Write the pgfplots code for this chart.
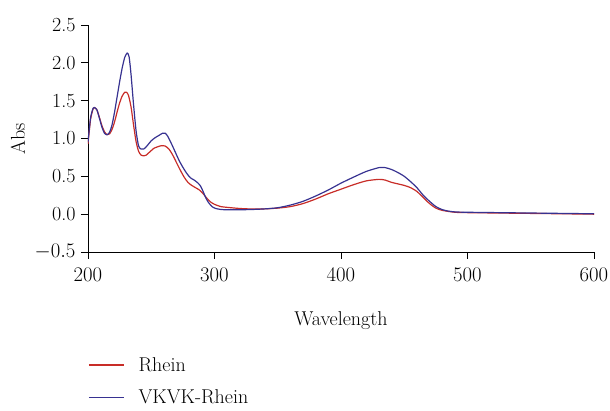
\documentclass[border=0pt]{standalone}
\usepackage{pgfplots}
\pgfplotsset{compat=1.18}
\definecolor{rheinred}{RGB}{200,45,40}
\definecolor{vkblue}{RGB}{55,50,145}

\begin{document}
\begin{tikzpicture}
\useasboundingbox (-88pt,-159pt) rectangle (522pt,252pt);
\begin{axis}[
    at={(0pt,0pt)}, anchor=south west,
    scale only axis,
    width=506pt, height=227pt,
    xmin=200, xmax=600,
    ymin=-0.5, ymax=2.5,
    axis x line*=bottom,
    axis y line*=left,
    xtick={200,300,400,500,600},
    ytick={-0.5,0,0.5,1,1.5,2,2.5},
    yticklabels={$-0.5$,0.0,0.5,1.0,1.5,2.0,2.5},
    tick align=outside,
    major tick length=7pt,
    axis line style={line width=0.8pt},
    tick style={line width=0.8pt, black},
    ticklabel style={font=\fontsize{20}{22}\selectfont},
    xticklabel style={yshift=-6pt},
    yticklabel style={xshift=-2pt},
    xlabel={Wavelength},
    ylabel={Abs},
    every axis x label/.style={at={(axis description cs:0.5,0)}, anchor=center, yshift=-69pt,
        font=\fontsize{20}{22}\selectfont},
    every axis y label/.style={at={(axis description cs:0,0.5)}, anchor=center, rotate=90, yshift=70pt,
        font=\fontsize{20}{22}\selectfont},
    legend style={at={(axis description cs:0,-0.455)}, anchor=north west, draw=none, fill=none,
        font=\fontsize{20}{22}\selectfont, inner xsep=0pt, inner ysep=0pt, row sep=13pt, cells={anchor=west}},
    legend cell align=left,
    legend image code/.code={\draw[#1, line width=1.4pt] (0pt,0pt) -- (35pt,0pt);},
    legend style={/tikz/every odd column/.append style={column sep=12pt}},
    every axis plot/.append style={line width=1.2pt, line join=round},
]
\addplot[rheinred, smooth, tension=0.4] coordinates {
(200,0.93) (202,1.25) (204,1.39) (205,1.41) (207,1.38) (209,1.28) (211,1.17) (213,1.09)
(215,1.05) (217,1.06) (219,1.12) (221,1.22) (223,1.35) (225,1.47) (227,1.56) (229,1.61)
(230.5,1.61) (232,1.57) (234,1.42) (236,1.18) (238,0.96) (240,0.83) (242,0.78) (244,0.77)
(246,0.78) (248,0.81) (250,0.84) (252,0.87) (255,0.89) (258,0.905) (261,0.90) (264,0.86)
(267,0.78) (270,0.68) (273,0.58) (276,0.49) (279,0.42) (282,0.38) (285,0.35) (288,0.32)
(291,0.27) (294,0.21) (297,0.16) (300,0.13) (305,0.10) (310,0.09) (320,0.075) (330,0.068)
(340,0.07) (350,0.08) (360,0.10) (370,0.14) (380,0.20) (390,0.27) (400,0.33) (410,0.39)
(420,0.44) (430,0.46) (435,0.45) (440,0.42) (450,0.38) (455,0.35) (460,0.30) (465,0.22)
(470,0.14) (475,0.08) (480,0.05) (490,0.025) (500,0.02) (550,0.01) (600,0.0)
};
\addlegendentry{Rhein}
\addplot[vkblue, smooth, tension=0.4] coordinates {
(200,0.95) (202,1.27) (204,1.40) (205,1.41) (207,1.38) (209,1.27) (211,1.15) (213,1.07)
(215,1.05) (217,1.08) (219,1.18) (221,1.35) (223,1.55) (225,1.75) (227,1.93) (229,2.07)
(231,2.13) (232.5,2.08) (234,1.85) (236,1.45) (238,1.10) (240,0.90) (242,0.86) (244,0.86)
(246,0.89) (248,0.93) (250,0.97) (253,1.01) (256,1.04) (259,1.07) (261,1.07) (263,1.03)
(266,0.93) (269,0.82) (272,0.71) (275,0.62) (278,0.54) (281,0.48) (284,0.45) (287,0.41)
(289,0.37) (291,0.30) (293,0.22) (295,0.16) (298,0.10) (301,0.075) (305,0.062) (310,0.058)
(320,0.058) (330,0.062) (340,0.07) (350,0.085) (360,0.12) (370,0.17) (380,0.24) (390,0.32)
(400,0.41) (410,0.49) (420,0.565) (430,0.615) (435,0.615) (440,0.59) (445,0.55) (450,0.50)
(455,0.43) (460,0.35) (465,0.25) (470,0.17) (475,0.10) (480,0.06) (485,0.04) (490,0.03)
(500,0.025) (550,0.015) (600,0.005)
};
\addlegendentry{VKVK-Rhein}
\end{axis}
\end{tikzpicture}
\end{document}
